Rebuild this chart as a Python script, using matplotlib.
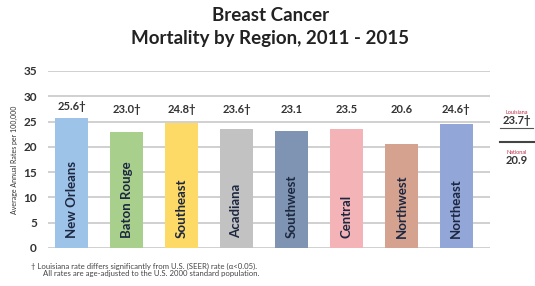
import matplotlib.pyplot as plt

regions = ["New Orleans", "Baton Rouge", "Southeast", "Acadiana",
           "Southwest", "Central", "Northwest", "Northeast"]
rates = [25.6, 23.0, 24.8, 23.6, 23.1, 23.5, 20.6, 24.6]
labels = ["25.6\u2020", "23.0\u2020", "24.8\u2020", "23.6\u2020",
          "23.1", "23.5", "20.6", "24.6\u2020"]
colors = ["#9ec3e8", "#a9cf8c", "#fdd966", "#c2c2c2",
          "#7f94b2", "#f4b3b6", "#d4a28f", "#93a6d8"]
louisiana = "23.7\u2020"
national = "20.9"

plt.rcParams["font.family"] = ["Lato", "DejaVu Sans"]

fig = plt.figure(figsize=(5.35, 2.86), dpi=100)
ax = fig.add_axes([0.0897, 0.133, 0.826, 0.619])

x = range(len(regions))
ax.bar(x, rates, width=0.6, color=colors, zorder=2)

for i, (r, name, lab) in enumerate(zip(rates, regions, labels)):
    ax.text(i, 2.0, name, rotation=90, ha="center", va="bottom",
            fontsize=9.5, fontweight="bold", color="#1c2740", zorder=3)
    ax.text(i, max(r + 1.2, 26.3), lab, ha="center", va="bottom",
            fontsize=8, fontweight="bold", color="#333333")

ax.set_ylim(0, 35)
ax.set_xlim(-0.43, 7.61)
ax.set_yticks(range(0, 36, 5))
ax.set_xticks([])
ax.grid(axis="y", color="#c8c8c8", linewidth=1.2, zorder=0)
for s in ax.spines.values():
    s.set_visible(False)
ax.tick_params(axis="y", length=0, pad=8, labelsize=8.5, labelcolor="#333333")
for t in ax.get_yticklabels():
    t.set_fontweight("bold")
ax.set_ylabel("Average Annual Rates per 100,000", fontsize=5, color="#333333",
              labelpad=4)

fig.text(0.505, 0.945, "Breast Cancer", ha="center", va="center",
         fontsize=13.5, fontweight="bold", color="#222222")
fig.text(0.505, 0.865, "Mortality by Region, 2011 - 2015", ha="center",
         va="center", fontsize=13.5, fontweight="bold", color="#222222")

# state / national comparison on the right
fig.text(0.966, 0.605, "Louisiana", ha="center", va="center", fontsize=4,
         color="#c0304a")
fig.text(0.966, 0.578, louisiana, ha="center", va="center", fontsize=8,
         fontweight="bold", color="#333333")
fig.add_artist(plt.Line2D([0.935, 0.997], [0.552, 0.552], color="#555555",
                          linewidth=0.8))
fig.add_artist(plt.Line2D([0.935, 1.0], [0.505, 0.505], color="#444444",
                          linewidth=1.5))
fig.text(0.966, 0.468, "National", ha="center", va="center", fontsize=4,
         color="#c0304a")
fig.text(0.966, 0.44, national, ha="center", va="center", fontsize=8,
         fontweight="bold", color="#333333")

fig.text(0.058, 0.07, "\u2020 Louisiana rate differs significantly from U.S. (SEER) rate (\u03b1<0.05).",
         ha="left", va="center", fontsize=5.6, color="#444444")
fig.text(0.08, 0.042, "All rates are age-adjusted to the U.S. 2000 standard population.",
         ha="left", va="center", fontsize=5.6, color="#444444")

fig.savefig("out.png", dpi=100, facecolor="white")
